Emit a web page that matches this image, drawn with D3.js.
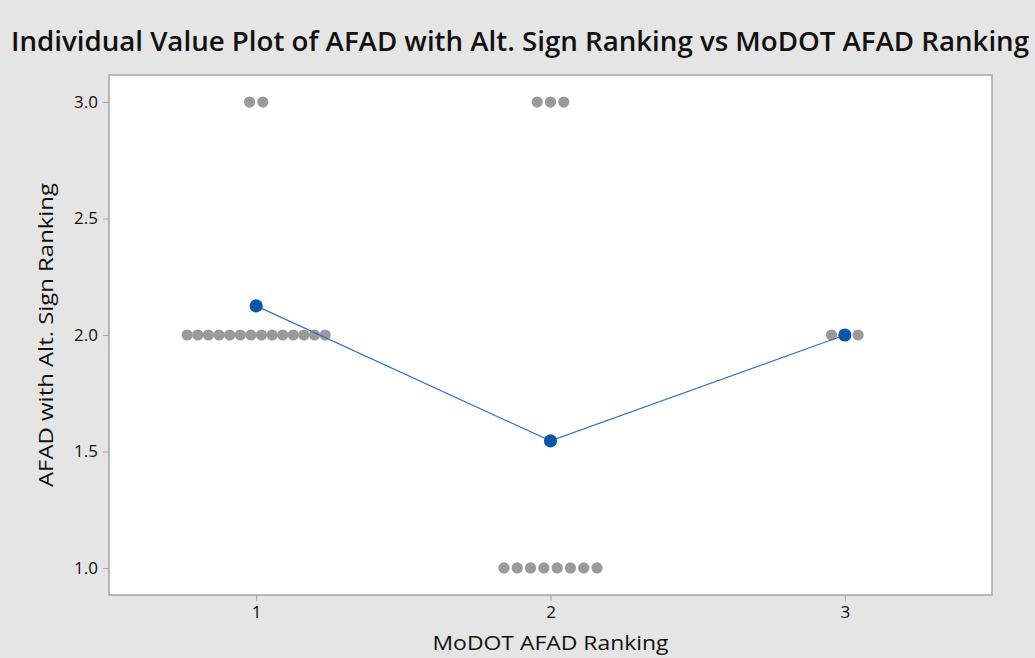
<!DOCTYPE html>
<html>
<head>
<meta charset="utf-8">
<script src="https://cdn.jsdelivr.net/npm/d3@7"></script>
<style>
  html, body { margin: 0; padding: 0; background: #e5e5e5; }
  svg { display: block; }
</style>
</head>
<body>
<div id="chart"></div>
<script>
// MoDOT AFAD ranking groups and the individual AFAD (alt. sign) rankings in each
const categories = [1, 2, 3];
const group1Values = [3, 3, 2, 2, 2, 2, 2, 2, 2, 2, 2, 2, 2, 2, 2, 2];
const group2Values = [3, 3, 3, 1, 1, 1, 1, 1, 1, 1, 1];
const group3Values = [2, 2, 2];
const xTicks = [1, 2, 3];
const yTicks = [1.0, 1.5, 2.0, 2.5, 3.0];

const seriesValues = [group1Values, group2Values, group3Values];

const width = 1035;
const height = 658;
const margin = { top: 75, right: 43, bottom: 63, left: 109 };

const svg = d3.select('#chart')
  .append('svg')
  .attr('width', width)
  .attr('height', height)
  .style('background', '#e5e5e5');

const x = d3.scaleLinear()
  .domain([0.5, 3.5])
  .range([margin.left, width - margin.right]);

const y = d3.scaleLinear()
  .domain([0.884, 3.116])
  .range([height - margin.bottom, margin.top]);

const font = '"Open Sans", "Noto Sans", sans-serif';

// plot area
svg.append('rect')
  .attr('x', margin.left)
  .attr('y', margin.top)
  .attr('width', width - margin.left - margin.right)
  .attr('height', height - margin.top - margin.bottom)
  .attr('fill', '#fff')
  .attr('stroke', '#a6a6a6')
  .attr('stroke-width', 1.5);

// axes
const xAxis = svg.append('g')
  .attr('transform', `translate(0,${height - margin.bottom})`)
  .call(d3.axisBottom(x).tickValues(xTicks).tickFormat(d3.format('d')).tickSize(6).tickPadding(5));

const yAxis = svg.append('g')
  .attr('transform', `translate(${margin.left},0)`)
  .call(d3.axisLeft(y).tickValues(yTicks).tickFormat(d3.format('.1f')).tickSize(6).tickPadding(5));

[xAxis, yAxis].forEach(g => {
  g.select('.domain').remove();
  g.selectAll('.tick line').attr('stroke', '#a6a6a6');
  g.selectAll('.tick text')
    .attr('fill', '#111')
    .attr('font-size', '17px')
    .attr('font-weight', 500)
    .attr('font-family', font);
});

// individual values, stacked side by side at each level
const points = [];
seriesValues.forEach((vals, i) => {
  const counts = d3.rollup(vals, v => v.length, v => v);
  counts.forEach((n, val) => {
    const step = Math.min(13.3, 138 / Math.max(n - 1, 1));
    for (let k = 0; k < n; k++) {
      points.push({ cat: categories[i], value: val, offset: (k - (n - 1) / 2) * step });
    }
  });
});

const means = categories.map((c, i) => ({ cat: c, value: d3.mean(seriesValues[i]) }));

svg.append('g')
  .selectAll('circle')
  .data(points)
  .join('circle')
  .attr('cx', d => x(d.cat) + d.offset)
  .attr('cy', d => y(d.value))
  .attr('r', 5.6)
  .attr('fill', '#9a9a9a');

// mean connect line
const line = d3.line()
  .x(d => x(d.cat))
  .y(d => y(d.value));

svg.append('path')
  .datum(means)
  .attr('d', line)
  .attr('fill', 'none')
  .attr('stroke', '#2f73c4')
  .attr('stroke-width', 1.2);

svg.append('g')
  .selectAll('circle')
  .data(means)
  .join('circle')
  .attr('cx', d => x(d.cat))
  .attr('cy', d => y(d.value))
  .attr('r', 6.6)
  .attr('fill', '#0b56a8');

// titles
svg.append('text')
  .attr('x', 520)
  .attr('y', 51)
  .attr('text-anchor', 'middle')
  .attr('font-family', font)
  .attr('font-weight', 600)
  .attr('font-size', '27px')
  .attr('fill', '#111')
  .attr('textLength', 1018)
  .attr('lengthAdjust', 'spacingAndGlyphs')
  .text('Individual Value Plot of AFAD with Alt. Sign Ranking vs MoDOT AFAD Ranking');

svg.append('text')
  .attr('x', x(2))
  .attr('y', 650)
  .attr('text-anchor', 'middle')
  .attr('font-family', font)
  .attr('font-size', '20px')
  .attr('fill', '#111')
  .attr('textLength', 236)
  .attr('lengthAdjust', 'spacingAndGlyphs')
  .text('MoDOT AFAD Ranking');

svg.append('text')
  .attr('transform', `translate(53,${(margin.top + height - margin.bottom) / 2}) rotate(-90)`)
  .attr('text-anchor', 'middle')
  .attr('font-family', font)
  .attr('font-size', '20px')
  .attr('fill', '#111')
  .attr('textLength', 304)
  .attr('lengthAdjust', 'spacingAndGlyphs')
  .text('AFAD with Alt. Sign Ranking');
</script>
</body>
</html>
